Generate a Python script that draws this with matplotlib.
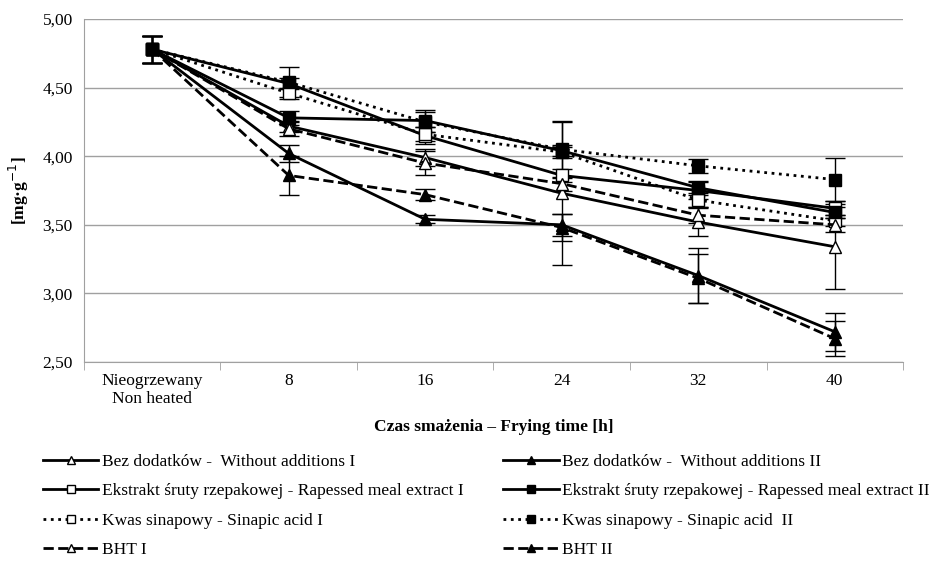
import numpy as np
import matplotlib
matplotlib.use("Agg")
import matplotlib.pyplot as plt

plt.rcParams['font.family'] = ['Liberation Serif', 'DejaVu Serif']

# categories on the x axis
categories = ['Nieogrzewany\nNon heated', '8', '16', '24', '32', '40']

# series values [mg/g]
bez_1 = [4.78, 4.22, 3.99, 3.73, 3.52, 3.34]
bez_2 = [4.78, 4.02, 3.54, 3.50, 3.13, 2.72]
ekstr_1 = [4.78, 4.53, 4.15, 3.86, 3.75, 3.62]
ekstr_2 = [4.78, 4.28, 4.26, 4.04, 3.77, 3.59]
kwas_1 = [4.78, 4.46, 4.16, 4.03, 3.68, 3.53]
kwas_2 = [4.78, 4.54, 4.25, 4.05, 3.93, 3.83]
bht_1 = [4.78, 4.20, 3.95, 3.80, 3.57, 3.50]
bht_2 = [4.78, 3.86, 3.72, 3.48, 3.11, 2.67]

# error bars (+/-)
bez_1_err = [0.10, 0.04, 0.06, 0.52, 0.10, 0.31]
bez_2_err = [0.10, 0.06, 0.03, 0.08, 0.20, 0.14]
ekstr_1_err = [0.10, 0.04, 0.06, 0.05, 0.06, 0.05]
ekstr_2_err = [0.10, 0.05, 0.08, 0.04, 0.05, 0.04]
kwas_1_err = [0.10, 0.04, 0.05, 0.04, 0.05, 0.04]
kwas_2_err = [0.10, 0.11, 0.07, 0.21, 0.05, 0.16]
bht_1_err = [0.10, 0.05, 0.09, 0.05, 0.06, 0.05]
bht_2_err = [0.10, 0.14, 0.04, 0.10, 0.18, 0.13]

labels = ['Bez dodatków -  Without additions I',
          'Ekstrakt śruty rzepakowej - Rapessed meal extract I',
          'Kwas sinapowy - Sinapic acid I',
          'BHT I',
          'Bez dodatków -  Without additions II',
          'Ekstrakt śruty rzepakowej - Rapessed meal extract II',
          'Kwas sinapowy - Sinapic acid  II',
          'BHT II']

series = [
    (bez_1, bez_1_err, '-', '^', 'white'),
    (ekstr_1, ekstr_1_err, '-', 's', 'white'),
    (kwas_1, kwas_1_err, ':', 's', 'white'),
    (bht_1, bht_1_err, '--', '^', 'white'),
    (bez_2, bez_2_err, '-', '^', 'black'),
    (ekstr_2, ekstr_2_err, '-', 's', 'black'),
    (kwas_2, kwas_2_err, ':', 's', 'black'),
    (bht_2, bht_2_err, '--', '^', 'black'),
]

fig = plt.figure(figsize=(9.35, 5.62), dpi=100)
ax = fig.add_axes([0.0898, 0.356, 0.876, 0.610])
x = np.arange(len(categories))

handles = []
for (vals, err, ls, mk, fc), lab in zip(series, labels):
    ax.errorbar(x, vals, yerr=err, fmt='none', ecolor='black',
                elinewidth=1, capsize=7, capthick=1, zorder=2)
    h, = ax.plot(x, vals, linestyle=ls, color='black', linewidth=2,
                 marker=mk, markersize=9, markerfacecolor=fc,
                 markeredgecolor='black', markeredgewidth=1, label=lab, zorder=3)
    handles.append(h)

ax.set_ylim(2.5, 5.0)
ax.set_xlim(-0.5, 5.5)
yt = np.arange(2.5, 5.01, 0.5)
ax.set_yticks(yt)
ax.set_yticklabels([('%.2f' % v).replace('.', ',') for v in yt], fontsize=12.5)
ax.set_xticks(x)
ax.set_xticklabels(categories, fontsize=12.5)
ax.set_xticks(np.arange(-0.5, 5.6, 1), minor=True)
ax.tick_params(axis='x', which='major', length=0, pad=8)
ax.tick_params(axis='x', which='minor', length=6, color='#a0a0a0')
ax.tick_params(axis='y', length=0, pad=8)
ax.yaxis.grid(True, color='#a0a0a0', linewidth=1)
ax.set_axisbelow(True)
for s in ['top', 'right']:
    ax.spines[s].set_visible(False)
for s in ['left', 'bottom']:
    ax.spines[s].set_color('#a0a0a0')

ax.set_ylabel('[mg·g$^{-1}$]', fontsize=12.5, fontweight='bold', labelpad=8)
ax.set_xlabel('Czas smażenia – Frying time [h]', fontsize=12.5, fontweight='bold', labelpad=8)

fig.legend(handles=handles, loc='upper left', bbox_to_anchor=(0.029, 0.22),
           ncol=2, frameon=False, fontsize=12.5, handlelength=3.2, markerscale=0.6,
           handletextpad=0.2, labelspacing=0.76, columnspacing=2.3)

fig.savefig('out.png', dpi=100)
